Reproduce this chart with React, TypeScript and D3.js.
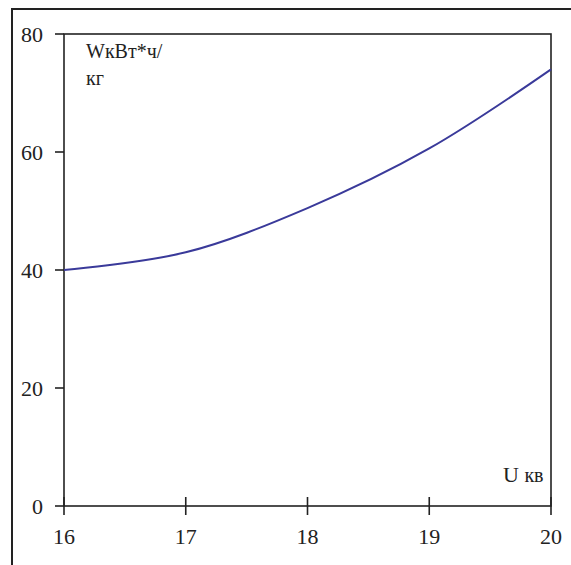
import React from "react";
import * as d3 from "d3";

const xValues = [16, 17, 18, 19, 20];
const yValues = [40, 43, 50.5, 60.6, 74];
const xTicks = [16, 17, 18, 19, 20];
const yTicks = [0, 20, 40, 60, 80];

export default function App() {
  const W = 571, H = 565;
  const left = 64, right = 551, top = 34, bottom = 506;
  const x = d3.scaleLinear().domain([16, 20]).range([left, right]);
  const y = d3.scaleLinear().domain([0, 80]).range([bottom, top]);
  const line = d3
    .line<number>()
    .x((_, i) => x(xValues[i]))
    .y((d) => y(d))
    .curve(d3.curveCatmullRom.alpha(0.5));
  const font = "'Liberation Serif', 'Times New Roman', serif";
  return (
    <svg
      width={W}
      height={H}
      style={{ position: "absolute", left: 0, top: 0, background: "#fff" }}
      fontFamily={font}
    >
      <rect x={0} y={0} width={W} height={H} fill="#fff" />
      <rect x={12} y={9} width={700} height={700} fill="none" stroke="#222" strokeWidth={2} />
      <rect
        x={left}
        y={top}
        width={right - left}
        height={bottom - top}
        fill="none"
        stroke="#222"
        strokeWidth={1.6}
      />
      {yTicks.map((t) => (
        <g key={"y" + t}>
          <line x1={55} x2={left} y1={y(t)} y2={y(t)} stroke="#222" strokeWidth={1.6} />
          <text x={43} y={y(t) + 8} textAnchor="end" fontSize={22} fill="#222">
            {t}
          </text>
        </g>
      ))}
      {xTicks.map((t) => (
        <g key={"x" + t}>
          <line x1={x(t)} x2={x(t)} y1={bottom - 9} y2={bottom + 9} stroke="#222" strokeWidth={1.6} />
          <text x={x(t)} y={544} textAnchor="middle" fontSize={22} fill="#222">
            {t}
          </text>
        </g>
      ))}
      <path d={line(yValues) || ""} fill="none" stroke="#3a3a9a" strokeWidth={2} />
      <text x={86} y={58} fontSize={20} fill="#222">WкВт*ч/</text>
      <text x={86} y={85} fontSize={20} fill="#222">кг</text>
      <text x={503} y={482} fontSize={22} fill="#222">
        U <tspan fontSize={20}>кв</tspan>
      </text>
    </svg>
  );
}
